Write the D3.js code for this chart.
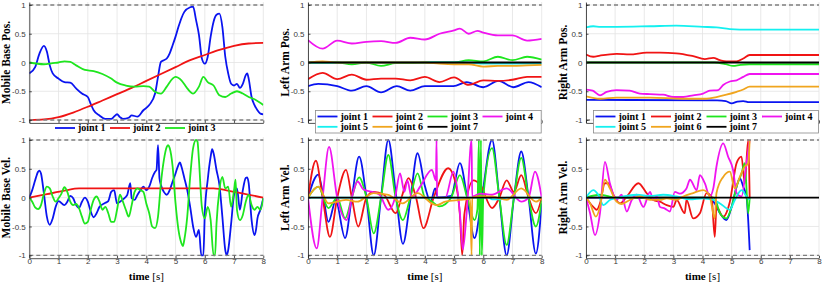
<!DOCTYPE html>
<html>
<head>
<meta charset="utf-8">
<script src="https://cdn.jsdelivr.net/npm/d3@7"></script>
<style>
  body { margin: 0; background: #fff; }
  svg { display: block; }
</style>
</head>
<body>
<script>
// ---- data (time [s], value) ----
const xTicks = [0, 1, 2, 3, 4, 5, 6, 7, 8]
const yTicks = [-1, -0.5, 0, 0.5, 1]
const yTickLabels = ["-1", "-0.5", "0", "0.5", "1"]
const jointNames = ["joint 1", "joint 2", "joint 3", "joint 4", "joint 5", "joint 6", "joint 7"]
const jointColors = ["#0a14f0", "#f01414", "#1ee61e", "#f014f0", "#14f0f0", "#f0a51e", "#000000"]

const mbPos1 = [[0,-0.19],[0.2,-0.08],[0.35,0.16],[0.5,0.29],[0.6,0.19],[0.7,-0.05],[0.8,-0.19],[1,-0.28],[1.2,-0.34],[1.4,-0.35],[1.6,-0.45],[1.8,-0.54],[2,-0.6],[2.1,-0.72],[2.2,-0.83],[2.4,-0.92],[2.6,-0.98],[2.8,-0.98],[2.9,-0.94],[3,-0.9],[3.1,-0.95],[3.2,-0.98],[3.4,-0.96],[3.5,-0.92],[3.7,-0.94],[3.9,-0.83],[4.1,-0.74],[4.3,-0.54],[4.4,-0.25],[4.5,0.01],[4.6,0.04],[4.7,0.07],[4.8,0.16],[4.9,0.3],[5,0.45],[5.1,0.62],[5.2,0.77],[5.3,0.88],[5.5,0.96],[5.6,0.97],[5.7,0.74],[5.8,0.48],[5.9,0.07],[6,-0.02],[6.1,0.1],[6.2,0.45],[6.3,0.71],[6.4,0.83],[6.5,0.85],[6.6,0.62],[6.7,0.1],[6.8,-0.19],[6.9,-0.37],[7,-0.4],[7.1,-0.37],[7.2,-0.44],[7.3,-0.37],[7.4,-0.22],[7.45,-0.19],[7.5,-0.28],[7.6,-0.6],[7.7,-0.74],[7.8,-0.83],[7.9,-0.89],[8,-0.9]]
const mbPos2 = [[0,-1],[0.5,-0.99],[1,-0.95],[1.5,-0.87],[2,-0.77],[2.5,-0.66],[3,-0.55],[3.5,-0.44],[4,-0.32],[4.5,-0.2],[5,-0.08],[5.5,0.04],[6,0.13],[6.5,0.22],[7,0.29],[7.5,0.33],[8,0.34]]
const mbPos3 = [[0,0],[0.5,-0.03],[0.8,-0.01],[1,0],[1.2,0.02],[1.4,0.01],[1.6,-0.05],[1.9,-0.13],[2.2,-0.15],[2.5,-0.2],[2.8,-0.28],[3,-0.35],[3.3,-0.4],[3.6,-0.42],[3.9,-0.41],[4.1,-0.42],[4.3,-0.51],[4.5,-0.54],[4.7,-0.42],[4.9,-0.28],[5,-0.25],[5.2,-0.31],[5.4,-0.45],[5.6,-0.54],[5.8,-0.42],[5.95,-0.25],[6.1,-0.34],[6.3,-0.4],[6.5,-0.57],[6.7,-0.6],[6.9,-0.54],[7.1,-0.5],[7.3,-0.54],[7.5,-0.6],[7.7,-0.64],[8,-0.74]]

const mbVel1 = [[0,0],[0.1,0.13],[0.2,0.3],[0.3,0.45],[0.35,0.47],[0.4,0.42],[0.5,0.07],[0.6,-0.33],[0.7,-0.47],[0.8,-0.36],[0.9,-0.16],[1,-0.06],[1.2,-0.13],[1.3,-0.07],[1.4,0.03],[1.5,-0.01],[1.6,-0.13],[1.7,-0.18],[1.8,-0.07],[1.9,0],[2,-0.07],[2.1,-0.24],[2.2,-0.34],[2.3,-0.27],[2.4,-0.16],[2.6,-0.09],[2.7,-0.06],[2.8,0.1],[2.9,0.13],[3,-0.1],[3.1,-0.07],[3.2,-0.03],[3.35,0.05],[3.45,0.25],[3.5,-0.01],[3.6,-0.04],[3.7,0.05],[3.8,0.13],[3.9,0.19],[4,0.13],[4.1,0.19],[4.2,0.34],[4.3,0.45],[4.35,0.48],[4.4,0.91],[4.45,0.34],[4.5,0.22],[4.6,0.1],[4.7,0.05],[4.8,0.13],[4.9,0.28],[5,0.42],[5.1,0.57],[5.15,0.61],[5.2,0.54],[5.3,0.34],[5.4,0.13],[5.5,-0.16],[5.6,-0.5],[5.7,-0.68],[5.8,-0.56],[5.88,-1],[5.95,-1],[6,-0.27],[6.1,0.31],[6.2,0.71],[6.25,0.84],[6.3,0.77],[6.4,0.48],[6.5,0.22],[6.6,-0.33],[6.7,-0.91],[6.75,-1],[6.8,-0.91],[6.9,-0.45],[7,0.05],[7.1,0.16],[7.2,-0.21],[7.3,0.13],[7.4,0.34],[7.45,0.35],[7.5,0.25],[7.6,-0.39],[7.7,-0.65],[7.75,-0.56],[7.8,-0.36],[7.9,-0.21],[8,-0.01]]
const mbVel2 = [[0,0],[0.6,0.06],[1.2,0.12],[1.7,0.16],[6.3,0.16],[7,0.1],[8,0]]
const mbVel3 = [[0,0],[0.1,-0.07],[0.2,-0.17],[0.3,-0.2],[0.4,-0.13],[0.5,0.07],[0.6,0.19],[0.7,0.16],[0.8,0.02],[0.9,-0.07],[1,-0.01],[1.1,0.07],[1.2,0.18],[1.3,0.1],[1.4,-0.07],[1.5,-0.13],[1.6,-0.11],[1.7,-0.18],[1.8,-0.33],[1.9,-0.45],[2,-0.42],[2.1,-0.21],[2.2,-0.04],[2.3,0.02],[2.4,-0.07],[2.5,-0.21],[2.6,-0.16],[2.7,-0.27],[2.8,-0.42],[2.9,-0.42],[3,-0.21],[3.1,0.05],[3.2,-0.07],[3.3,-0.21],[3.4,-0.33],[3.5,-0.13],[3.6,0.1],[3.7,0.16],[3.8,0.13],[3.9,0.1],[4,-0.1],[4.1,-0.27],[4.2,-0.5],[4.3,-0.53],[4.4,-0.33],[4.5,0.25],[4.6,0.65],[4.7,0.88],[4.75,0.91],[4.8,0.86],[4.9,0.54],[5,-0.1],[5.1,-0.56],[5.2,-0.79],[5.25,-0.84],[5.3,-0.73],[5.4,-0.33],[5.5,0.36],[5.6,0.86],[5.7,1],[5.75,0.97],[5.8,0.65],[5.9,-0.16],[6,-0.36],[6.1,-0.16],[6.2,-0.39],[6.3,-1],[6.35,-1],[6.4,-0.45],[6.5,0.13],[6.6,0.36],[6.7,0.16],[6.8,0.19],[6.9,-0.16],[7,0.13],[7.05,0.31],[7.1,-0.21],[7.2,-0.39],[7.3,-0.3],[7.4,-0.07],[7.5,0.05],[7.6,-0.13],[7.7,-0.21],[7.8,-0.16],[7.9,-0.21],[8,-0.01]]

const laPos1 = [[0,-0.41],[0.35,-0.37],[1,-0.41],[1.5,-0.49],[2,-0.41],[2.5,-0.52],[3.04,-0.41],[3.5,-0.49],[4,-0.41],[4.98,-0.41],[5.43,-0.34],[6,-0.43],[6.52,-0.32],[7.03,-0.43],[7.55,-0.34],[8,-0.43]]
const laPos2 = [[0,-0.29],[0.5,-0.18],[1,-0.29],[1.5,-0.21],[2,-0.3],[2.5,-0.28],[3,-0.28],[3.5,-0.31],[4,-0.25],[4.5,-0.34],[5,-0.26],[5.5,-0.39],[6,-0.31],[6.5,-0.32],[7,-0.3],[7.5,-0.25],[8,-0.25]]
const laPos3 = [[0,0],[1,0],[1.5,-0.03],[2,0],[2.5,-0.06],[3,-0.01],[3.5,-0.01],[4,0],[5,0],[5.5,0.04],[6,0.02],[6.5,0.1],[7,0.04],[7.5,0.1],[8,0.05]]
const laPos4 = [[0,0.39],[0.5,0.24],[1,0.38],[1.5,0.33],[2,0.36],[2.5,0.37],[3,0.34],[3.5,0.43],[4,0.4],[4.5,0.5],[5,0.56],[5.2,0.59],[5.5,0.5],[5.8,0.55],[6,0.52],[6.5,0.47],[7,0.47],[7.5,0.38],[8,0.41]]
const laPos5 = [[0,0],[5.5,0],[6,-0.02],[8,-0.02]]
const laPos6 = [[0,0],[0.5,0.02],[1,0],[4,0],[4.5,-0.02],[5,-0.03],[5.5,-0.03],[6,-0.07],[6.5,-0.06],[7,-0.06],[7.5,-0.05],[8,-0.04]]
const laPos7 = [[0,0],[8,0]]

const laVel1 = [[0,0],[0.35,0.4],[0.5,0.1],[0.7,-0.42],[0.95,-0.05],[1.27,-0.7],[1.5,0],[1.75,0.71],[2,0],[2.25,-1],[2.5,0],[2.75,1],[3,0.1],[3.25,-0.8],[3.5,-0.05],[3.75,0.77],[4,0.2],[4.2,-0.07],[4.35,0.16],[4.45,0],[4.9,0.03],[5.2,0.6],[5.45,0],[5.7,-0.7],[5.95,0],[6.3,1],[6.55,0],[6.8,-1],[7.05,0],[7.3,0.8],[7.55,0],[7.8,-0.97],[8,-0.1]]
const laVel2 = [[0,0],[0.27,0.64],[0.5,0],[0.75,-0.68],[1,0],[1.3,0.48],[1.5,0],[1.72,-0.5],[2,0],[2.24,0.1],[2.6,0.05],[3,-0.27],[3.2,0],[3.44,0.34],[3.7,0],[3.95,-0.53],[4.3,0],[4.8,0.51],[5.03,0.3],[5.2,-0.3],[5.28,-1],[5.35,-0.3],[5.66,0.3],[5.9,0.22],[6.3,-0.18],[6.55,0],[6.8,0.3],[7.05,0.1],[7.3,0.39],[7.55,0],[7.8,-0.27],[8,0]]
const laVel3 = [[0,0],[0.35,0.19],[0.7,-0.18],[1,0],[1.27,-0.36],[1.5,0],[1.75,0.35],[2,0],[2.25,-0.62],[2.5,0],[2.75,0.74],[3,0],[3.25,-0.39],[3.5,0],[3.75,0.42],[4,0],[4.2,-0.05],[4.5,-0.15],[4.9,0],[5.2,0.39],[5.45,0],[5.7,-0.39],[5.8,-0.2],[5.85,1],[5.88,-1],[5.92,1],[5.95,-1],[6,0],[6.3,0.86],[6.55,0],[6.8,-0.82],[7.05,0],[7.3,0.69],[7.55,0],[7.8,-0.5],[8,-0.05]]
const laVel4 = [[0,0],[0.3,-0.88],[0.5,0],[0.72,0.88],[1,0],[1.32,-0.39],[1.5,0],[1.7,0.28],[1.9,0.14],[2.2,0.1],[2.45,0.05],[2.75,-0.21],[2.98,0],[3.15,0.42],[3.3,0.1],[3.4,0.3],[3.55,0],[3.85,0.2],[4.24,0.48],[4.38,0.3],[4.4,1],[4.42,0],[4.7,0],[4.98,0.45],[5.2,-0.27],[5.3,-0.9],[5.43,-0.27],[5.6,1],[5.62,0.02],[5.9,0.07],[6.3,0.05],[6.8,0.16],[7.3,-0.07],[7.55,0],[7.77,0.45],[8,0]]
const laVel5 = [[0,0],[4,0],[6.2,0],[6.3,-0.03],[6.6,-0.03],[6.8,0],[8,0]]
const laVel6 = [[0,0],[0.35,0.19],[0.7,-0.1],[1.3,-0.04],[1.7,-0.07],[2,0.02],[2.24,0.08],[2.75,0.05],[3.24,-0.1],[3.75,0.08],[4.24,-0.1],[4.4,-0.13],[4.7,-0.07],[5.2,-0.04],[5.55,-0.02],[5.6,-1],[5.62,0],[5.85,0.02],[6.3,0.02],[6.8,-0.04],[7.3,0.16],[7.8,-0.07],[8,0]]
const laVel7 = [[0,0],[8,0]]

const raPos1 = [[0,-0.65],[4.5,-0.66],[4.8,-0.67],[5,-0.71],[5.2,-0.68],[5.4,-0.67],[5.6,-0.69],[8,-0.69]]
const raPos2 = [[0,0.14],[0.25,0.1],[0.48,0.12],[1.05,0.15],[1.5,0.14],[2.08,0.17],[2.54,0.17],[3.1,0.16],[3.68,0.11],[4.08,0.06],[4.37,0.08],[4.6,0.04],[4.82,0.02],[5.17,0.02],[5.4,0.07],[5.62,0.13],[8,0.13]]
const raPos3 = [[0,0],[4.4,0],[4.8,-0.03],[5.05,-0.06],[5.3,-0.04],[5.6,-0.03],[8,-0.03]]
const raPos4 = [[0,-0.47],[0.23,-0.49],[0.48,-0.57],[0.71,-0.51],[1.05,-0.48],[1.5,-0.49],[1.85,-0.54],[2.2,-0.55],[2.65,-0.56],[3,-0.6],[3.34,-0.6],[3.68,-0.57],[4.02,-0.54],[4.25,-0.49],[4.54,-0.48],[4.71,-0.39],[4.94,-0.33],[5.17,-0.31],[5.4,-0.25],[5.62,-0.2],[8,-0.2]]
const raPos5 = [[0,0.61],[0.25,0.63],[0.5,0.62],[1.05,0.62],[2.2,0.63],[3.1,0.64],[4.02,0.62],[4.48,0.61],[4.94,0.58],[5.62,0.57],[8,0.57]]
const raPos6 = [[0,-0.59],[0.48,-0.63],[1.05,-0.61],[2.2,-0.61],[3.34,-0.63],[4.14,-0.63],[4.48,-0.6],[4.82,-0.56],[5.17,-0.51],[5.4,-0.47],[5.62,-0.42],[8,-0.42]]
const raPos7 = [[0,0],[8,0]]

const raVel1 = [[0,0],[4.25,0],[4.42,-0.1],[4.6,-0.27],[4.82,-0.39],[5,-0.16],[5.17,0.19],[5.28,0.34],[5.4,0.19],[5.51,0.02],[5.62,-0.91]]
const raVel2 = [[0,0],[0.25,-0.16],[0.37,-0.21],[0.48,-0.1],[0.65,0.25],[0.77,0.25],[0.94,0.05],[1.17,-0.1],[1.4,0.02],[1.8,0.25],[2.08,0.08],[2.31,-0.04],[2.54,-0.07],[2.77,-0.13],[3,-0.16],[3.11,-0.04],[3.39,-0.27],[3.45,-0.04],[3.68,-0.36],[3.91,-0.27],[4.14,0.08],[4.31,0.02],[4.42,-0.68],[4.48,-0.16],[4.71,-0.33],[4.94,-0.07],[5.17,0.6],[5.34,0.71],[5.45,0.25],[5.57,1],[5.62,0]]
const raVel3 = [[0,0],[0.48,0.05],[0.71,0.03],[1,0],[4.4,0],[4.6,-0.27],[4.82,-0.36],[5,-0.16],[5.17,0.19],[5.34,0.42],[5.45,0.6],[5.57,-0.27],[5.62,0]]
const raVel4 = [[0,0],[0.14,-0.27],[0.31,-0.65],[0.48,-0.27],[0.65,0.62],[0.82,0.25],[0.94,0.05],[1.05,-0.04],[1.22,0.05],[1.4,-0.24],[1.57,-0.04],[1.74,0.05],[1.97,-0.16],[2.2,0.1],[2.31,-0.04],[2.43,0.02],[2.54,-0.16],[2.71,-0.19],[2.88,-0.24],[3.05,0.1],[3.22,0.07],[3.45,0.16],[3.57,0.31],[3.8,0.13],[3.91,0.39],[4.08,0.25],[4.25,0.02],[4.37,0.16],[4.48,0.54],[4.71,0.94],[4.88,0.71],[5.05,0.48],[5.17,0.08],[5.34,0.02],[5.51,0.6],[5.62,1]]
const raVel5 = [[0,0],[0.25,0.13],[0.42,0.05],[0.6,-0.13],[0.82,-0.04],[1.05,-0.01],[1.28,0.02],[1.74,0.05],[2.2,0.03],[2.65,0.05],[3.11,0.02],[3.57,-0.03],[4.02,-0.01],[4.37,-0.04],[4.6,-0.1],[4.94,-0.21],[5.11,-0.04],[5.34,0.13],[5.51,0.02],[5.62,-0.04]]
const raVel6 = [[0,0],[0.14,-0.1],[0.34,-0.33],[0.48,-0.16],[0.65,0.31],[0.82,0.16],[1.05,-0.07],[1.22,-0.11],[1.5,-0.04],[1.85,0.02],[2.2,-0.04],[2.54,-0.04],[2.77,-0.01],[3.11,-0.04],[3.34,0.02],[3.68,0.08],[4.02,0.13],[4.25,0.02],[4.42,-0.36],[4.48,0.08],[4.71,0.36],[4.94,0.45],[5.11,0.16],[5.28,0.36],[5.45,0.54],[5.57,0.6],[5.62,1]]
const raVel7 = [[0,0],[8,0]]

// ---- layout ----
const W = 822, H = 283
const cols = [[29.3, 263.3], [308, 541.7], [586, 819]]
const rows = [[2.1, 122.9], [137.1, 258.2]]

const panels = [
  {col: 0, row: 0, label: "Mobile Base Pos.", series: [mbPos1, mbPos2, mbPos3]},
  {col: 0, row: 1, label: "Mobile Base Vel.", series: [mbVel1, mbVel2, mbVel3]},
  {col: 1, row: 0, label: "Left Arm Pos.", series: [laPos1, laPos2, laPos3, laPos4, laPos5, laPos6, laPos7]},
  {col: 1, row: 1, label: "Left Arm Vel.", series: [laVel1, laVel2, laVel3, laVel4, laVel5, laVel6, laVel7]},
  {col: 2, row: 0, label: "Right Arm Pos.", series: [raPos1, raPos2, raPos3, raPos4, raPos5, raPos6, raPos7]},
  {col: 2, row: 1, label: "Right Arm Vel.", series: [raVel1, raVel2, raVel3, raVel4, raVel5, raVel6, raVel7]}
]

const svg = d3.select("body").append("svg")
  .attr("width", W).attr("height", H)

const tickFont = "'Liberation Sans', Arial, sans-serif"
const serif = "'Liberation Serif', 'Times New Roman', serif"
const axisColor = "#262626"

panels.forEach((p, i) => {
  const [x0, x1] = cols[p.col]
  const [y0, y1] = rows[p.row]
  const x = d3.scaleLinear().domain([0, 8]).range([x0, x1])
  const y = d3.scaleLinear().domain([-1.05, 1.05]).range([y1, y0])

  const g = svg.append("g")

  // grid
  g.selectAll(".gx").data(xTicks).join("line")
    .attr("x1", d => x(d)).attr("x2", d => x(d))
    .attr("y1", y0).attr("y2", y1)
    .attr("stroke", "#e3e3e3").attr("stroke-width", 0.8)
  g.selectAll(".gy").data(yTicks).join("line")
    .attr("x1", x0).attr("x2", x1)
    .attr("y1", d => y(d)).attr("y2", d => y(d))
    .attr("stroke", "#e3e3e3").attr("stroke-width", 0.8)

  // clip
  svg.append("clipPath").attr("id", "clip" + i)
    .append("rect").attr("x", x0).attr("y", y0).attr("width", x1 - x0).attr("height", y1 - y0)

  const line = d3.line()
    .x(d => x(d[0])).y(d => y(d[1]))
    .curve(d3.curveMonotoneX)

  g.append("g").attr("clip-path", `url(#clip${i})`)
    .selectAll("path").data(p.series).join("path")
    .attr("d", line)
    .attr("fill", "none")
    .attr("stroke", (d, k) => jointColors[k])
    .attr("stroke-width", 1.8)
    .attr("stroke-linejoin", "round")

  // limit lines
  g.selectAll(".lim").data([-1, 1]).join("line")
    .attr("x1", x0).attr("x2", x1)
    .attr("y1", d => y(d)).attr("y2", d => y(d))
    .attr("stroke", "#7f7f7f").attr("stroke-width", 1.3)
    .attr("stroke-dasharray", "4,3")

  // axes
  const ax = d3.axisBottom(x).tickValues(xTicks).tickSizeInner(-2.5).tickSizeOuter(0)
    .tickFormat(p.row === 1 ? d3.format("d") : () => "")
  const ay = d3.axisLeft(y).tickValues(yTicks).tickSizeInner(-2.5).tickSizeOuter(0)
    .tickFormat((d, k) => yTickLabels[k])

  const gx = g.append("g").attr("transform", `translate(0,${y1})`).call(ax)
  const gy = g.append("g").attr("transform", `translate(${x0},0)`).call(ay)
  ;[gx, gy].forEach(a => {
    a.select(".domain").attr("stroke", axisColor).attr("stroke-width", 0.8)
    a.selectAll(".tick line").attr("stroke", axisColor).attr("stroke-width", 0.8)
    a.selectAll(".tick text").attr("fill", "#3a3a3a")
      .style("font-family", tickFont).style("font-size", "8px")
  })
  gx.selectAll(".tick text").attr("dy", "0.2em").attr("y", 4)
  gy.selectAll(".tick text").attr("x", -3.5)

  // y label
  svg.append("text")
    .attr("transform", `translate(${x0 - 19.5},${(y0 + y1) / 2}) rotate(-90)`)
    .attr("text-anchor", "middle")
    .style("font-family", serif).style("font-weight", "bold").style("font-size", "11.5px")
    .attr("fill", "#000")
    .text(p.label)

  // x label
  if (p.row === 1) {
    const t = svg.append("text")
      .attr("x", (x0 + x1) / 2).attr("y", 280)
      .attr("text-anchor", "middle")
      .style("font-family", serif).style("font-size", "11px").attr("fill", "#000")
    t.append("tspan").style("font-weight", "bold").text("time ")
    t.append("tspan").text("[s]")
  }

  // legends
  if (p.row === 0) {
    const n = p.series.length
    const perRow = p.col === 0 ? 3 : 4
    const colW = p.col === 0 ? 55 : (p.col === 1 ? 55 : 55.5)
    const lx = p.col === 0 ? 55 : x0 + 9.5
    const ly = p.col === 0 ? 128 : 116.5
    if (p.col !== 0) {
      svg.append("rect")
        .attr("x", x0 + 7.5).attr("y", 110.5)
        .attr("width", x1 - x0 - 8).attr("height", 22.5)
        .attr("fill", "#fff").attr("stroke", "#8a8a8a").attr("stroke-width", 0.8)
    }
    const lg = svg.append("g")
    for (let k = 0; k < n; k++) {
      const cx = lx + (k % perRow) * colW
      const cy = ly + Math.floor(k / perRow) * 10.3
      lg.append("line")
        .attr("x1", cx).attr("x2", cx + 20)
        .attr("y1", cy).attr("y2", cy)
        .attr("stroke", jointColors[k]).attr("stroke-width", 1.8)
      lg.append("text")
        .attr("x", cx + 23).attr("y", cy + 3.2)
        .style("font-family", serif).style("font-weight", "bold").style("font-size", "10px")
        .attr("fill", "#000")
        .text(jointNames[k])
    }
  }
})
</script>
</body>
</html>
